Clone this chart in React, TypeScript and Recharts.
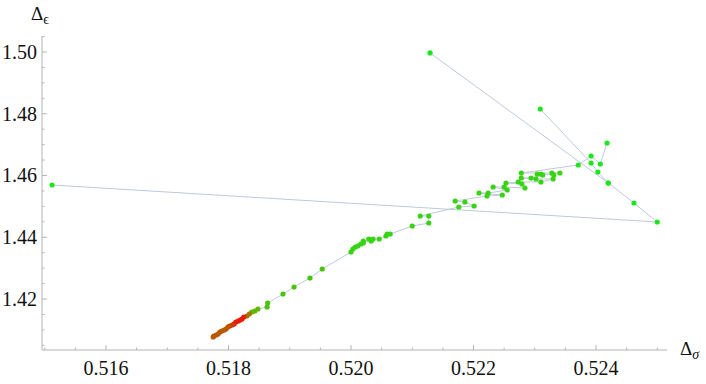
import React from 'react';
import { ScatterChart, Scatter, XAxis, YAxis } from 'recharts';

// sigma, epsilon pairs
const runA: [number, number][] = [
  [0.52129, 1.4997],
  [0.5242, 1.45757],
  [0.52462, 1.45109],
  [0.525, 1.44494],
  [0.51512, 1.45692],
];

const runB: [number, number][] = [
  [0.52309, 1.48154],
  [0.52392, 1.46405],
  [0.52403, 1.46113],
  [0.5242, 1.45757],
];

const runC: [number, number][] = [
  [0.52418, 1.47053],
  [0.52407, 1.46372],
  [0.52392, 1.46632],
  [0.52371, 1.4634],
  [0.52278, 1.46081],
  [0.52341, 1.46081],
  [0.52328, 1.46081],
  [0.52331, 1.46016],
  [0.52304, 1.46049],
  [0.5231, 1.46049],
  [0.52313, 1.46016],
  [0.52294, 1.45919],
  [0.52278, 1.45919],
  [0.52302, 1.45887],
  [0.5233, 1.45887],
  [0.5231, 1.4579],
  [0.52273, 1.4579],
  [0.52253, 1.45757],
  [0.52279, 1.45725],
  [0.52284, 1.45595],
  [0.5225, 1.45628],
  [0.52232, 1.45628],
  [0.52255, 1.4553],
  [0.52224, 1.45433],
  [0.52209, 1.45433],
  [0.52247, 1.45368],
  [0.52222, 1.45336],
  [0.5217, 1.45174],
  [0.52186, 1.45142],
  [0.52201, 1.45012],
  [0.52176, 1.4498],
  [0.52113, 1.44688],
  [0.52127, 1.44688],
  [0.52127, 1.44462],
  [0.521, 1.44364],
  [0.52064, 1.44105],
  [0.52059, 1.44105],
  [0.52057, 1.4404],
  [0.52046, 1.43943],
  [0.52036, 1.43943],
  [0.52029, 1.43943],
  [0.52033, 1.43879],
  [0.5202, 1.43879],
  [0.5202, 1.43814],
  [0.52016, 1.43781],
  [0.52011, 1.43717],
  [0.52007, 1.43684],
  [0.52003, 1.43619],
  [0.52, 1.43522],
  [0.51953, 1.42972],
  [0.51933, 1.4268],
  [0.51907, 1.42389],
  [0.51889, 1.42162],
  [0.51864, 1.4187],
  [0.51863, 1.41741],
];

const tail: [number, number][] = [
  [0.51848, 1.41676],
  [0.51843, 1.41611],
  [0.51838, 1.41579],
  [0.51834, 1.41514],
  [0.5183, 1.41449],
  [0.51825, 1.41417],
  [0.51822, 1.41352],
  [0.51819, 1.4132],
  [0.51816, 1.41287],
  [0.51812, 1.41255],
  [0.51809, 1.4119],
  [0.51806, 1.41158],
  [0.51802, 1.41126],
  [0.51799, 1.41093],
  [0.51796, 1.41028],
  [0.51793, 1.40996],
  [0.51789, 1.40964],
  [0.51786, 1.40931],
  [0.51783, 1.40866],
  [0.5178, 1.40834],
  [0.51776, 1.40802],
  [0.51775, 1.40769],
];

const xMajor = [0.516, 0.518, 0.52, 0.522, 0.524];
const xMinor = [
  0.515, 0.5155, 0.5165, 0.517, 0.5175, 0.5185, 0.519, 0.5195, 0.5205, 0.521,
  0.5215, 0.5225, 0.523, 0.5235, 0.5245, 0.525,
];
const yMajor = [1.42, 1.44, 1.46, 1.48, 1.5];
const yMinor = [
  1.405, 1.41, 1.415, 1.425, 1.43, 1.435, 1.445, 1.45, 1.455, 1.465, 1.47,
  1.475, 1.485, 1.49, 1.495, 1.505,
];

const AXIS = '#b4b4b4';
const LINE = '#bfc9dc';
const FONT = "'Liberation Serif', 'Times New Roman', serif";

const toPts = (arr: [number, number][]) => arr.map(([s, e]) => ({ s, e }));

const colorFor = (s: number, e: number) => {
  if (e >= 1.465 || s >= 0.5235 || s < 0.517) return '#1ee61e';
  if (e >= 1.43) return '#36d412';
  if (s >= 0.51855) return '#48c40a';
  if (s >= 0.51835) return '#62b600';
  if (s >= 0.51826) return '#a67400';
  if (s >= 0.51808) return '#e81e00';
  if (s >= 0.518) return '#d03c00';
  return '#b85800';
};

const isMajor = (list: number[], v: number) => list.some((m) => Math.abs(m - v) < 1e-9);

const XTick = (props: any) => {
  const { x, y, payload } = props;
  const major = isMajor(xMajor, payload.value);
  return (
    <g>
      <line x1={x} x2={x} y1={y} y2={y - (major ? 5 : 2.5)} stroke={AXIS} />
      {major && (
        <text x={x} y={y + 25} textAnchor="middle" fill="#111" style={{ fontFamily: FONT, fontSize: 20 }}>
          {payload.value.toFixed(3)}
        </text>
      )}
    </g>
  );
};

const YTick = (props: any) => {
  const { x, y, payload } = props;
  const major = isMajor(yMajor, payload.value);
  return (
    <g>
      <line x1={x} x2={x + (major ? 5 : 2.5)} y1={y} y2={y} stroke={AXIS} />
      {major && (
        <text x={x - 5} y={y + 7} textAnchor="end" fill="#111" style={{ fontFamily: FONT, fontSize: 20 }}>
          {payload.value.toFixed(2)}
        </text>
      )}
    </g>
  );
};

const Dot = (props: any) => {
  const { cx, cy, payload } = props;
  if (cx == null || cy == null) return <g />;
  return <circle cx={cx} cy={cy} r={2.6} fill={colorFor(payload.s, payload.e)} />;
};

const NoDot = () => <g />;

const App: React.FC = () => {
  const a = toPts(runA);
  const b = toPts(runB);
  const c = toPts([...runC, ...tail]);

  return (
    <div style={{ position: 'absolute', left: 0, top: 0, width: 706, height: 384, background: '#fff' }}>
      <ScatterChart width={706} height={384} margin={{ top: 36, right: 39, bottom: 4, left: 0 }}>
        <XAxis
          type="number"
          dataKey="s"
          domain={[0.514955, 0.525159]}
          allowDataOverflow
          ticks={[...xMajor, ...xMinor].sort((p, q) => p - q)}
          interval={0}
          tick={<XTick />}
          tickLine={false}
          tickSize={0}
          tickMargin={0}
          height={30}
          axisLine={{ stroke: AXIS }}
        />
        <YAxis
          type="number"
          dataKey="e"
          domain={[1.403482, 1.505182]}
          allowDataOverflow
          ticks={[...yMajor, ...yMinor].sort((p, q) => p - q)}
          interval={0}
          tick={<YTick />}
          tickLine={false}
          tickSize={0}
          tickMargin={0}
          width={42}
          axisLine={{ stroke: AXIS }}
        />
        <Scatter data={a} line={{ stroke: LINE, strokeWidth: 1 }} shape={NoDot} isAnimationActive={false} />
        <Scatter data={b} line={{ stroke: LINE, strokeWidth: 1 }} shape={NoDot} isAnimationActive={false} />
        <Scatter data={c} line={{ stroke: LINE, strokeWidth: 1 }} shape={NoDot} isAnimationActive={false} />
        <Scatter data={a} shape={Dot} isAnimationActive={false} />
        <Scatter data={b} shape={Dot} isAnimationActive={false} />
        <Scatter data={c} shape={Dot} isAnimationActive={false} />
      </ScatterChart>
      <svg width={706} height={384} style={{ position: 'absolute', left: 0, top: 0, pointerEvents: 'none' }}>
        <text x={31} y={20} fill="#111" style={{ fontFamily: FONT, fontSize: 19 }}>
          Δ<tspan dy={4} style={{ fontSize: 14 }}>ϵ</tspan>
        </text>
        <text x={680} y={355} fill="#111" style={{ fontFamily: FONT, fontSize: 19 }}>
          Δ<tspan dy={4} style={{ fontSize: 14, fontStyle: 'italic' }}>σ</tspan>
        </text>
      </svg>
    </div>
  );
};

export default App;
